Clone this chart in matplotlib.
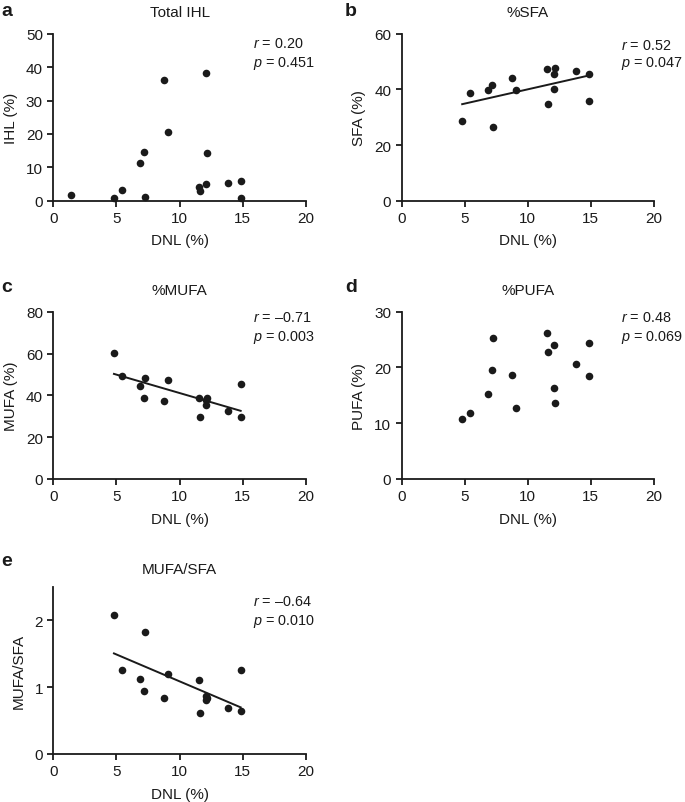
import matplotlib
matplotlib.use("Agg")
import matplotlib.pyplot as plt
import numpy as np

plt.rcParams['font.family'] = ['Liberation Sans', 'DejaVu Sans']
plt.rcParams['mathtext.fontset'] = 'custom'
plt.rcParams['mathtext.it'] = 'Liberation Sans:italic'
plt.rcParams['mathtext.rm'] = 'Liberation Sans'

# data
dnl_ihl = [1.37, 4.8, 5.4, 7.25, 6.83, 7.18, 8.76, 9.05, 11.56, 11.6, 12.06, 12.08, 12.19, 13.8, 14.83, 14.83]
ihl = [1.6, 0.8, 3.1, 1.1, 11.3, 14.6, 36.1, 20.7, 4.2, 2.8, 38.3, 5.1, 14.4, 5.3, 5.9, 0.9]

dnl = [4.8, 5.4, 6.83, 7.18, 7.25, 8.76, 9.05, 11.56, 11.6, 12.06, 12.08, 12.19, 13.8, 14.83, 14.83]
sfa = [28.7, 38.7, 39.8, 41.4, 26.3, 44.0, 39.6, 47.4, 34.9, 40.2, 45.4, 47.7, 46.7, 45.7, 35.9]
mufa = [60.2, 49.1, 44.6, 38.7, 48.1, 37.1, 47.3, 38.6, 29.5, 35.2, 38.0, 38.6, 32.5, 45.3, 29.8]
pufa = [10.7, 11.8, 15.2, 19.6, 25.3, 18.6, 12.8, 26.1, 22.8, 16.3, 24.0, 13.7, 20.6, 24.3, 18.5]
ratio = [2.08, 1.26, 1.12, 0.94, 1.82, 0.84, 1.19, 1.11, 0.62, 0.87, 0.81, 0.84, 0.69, 1.26, 0.65]

stats_r = ["0.20", "0.52", "\u20130.71", "0.48", "\u20130.64"]
stats_p = ["0.451", "0.047", "0.003", "0.069", "0.010"]

W, H = 685, 803
fig = plt.figure(figsize=(W / 100, H / 100), dpi=100)

col = "#1a1a1a"
fs = 11

def make_ax(x0, x1, ytop, ybot):
    return fig.add_axes([x0 / W, 1 - ybot / H, (x1 - x0) / W, (ybot - ytop) / H])

panels = [
    # letter, title, ylabel, x, y, ymax, yticks, fit line, axes box (px), stats pos
    ("a", "Total IHL", "IHL (%)", dnl_ihl, ihl, 50, [0, 10, 20, 30, 40, 50], False,
     (53.3, 306, 34.7, 201.7), (0.79, 0.946, 0.829)),
    ("b", "%SFA", "SFA (%)", dnl, sfa, 60, [0, 20, 40, 60], True,
     (401.7, 653.7, 34.7, 201.7), (0.872, 0.935, 0.829)),
    ("c", "%MUFA", "MUFA (%)", dnl, mufa, 80, [0, 20, 40, 60, 80], True,
     (53.3, 306, 312.7, 480), (0.79, 0.966, 0.85)),
    ("d", "%PUFA", "PUFA (%)", dnl, pufa, 30, [0, 10, 20, 30], False,
     (401.7, 653.7, 312.7, 480), (0.872, 0.966, 0.85)),
    ("e", "MUFA/SFA", "MUFA/SFA", dnl, ratio, 2.5, [0, 1, 2], True,
     (53.3, 306, 587.7, 755), (0.79, 0.916, 0.797)),
]

for i, (letter, title, ylab, xs, ys, ymax, yticks, fit, box, spos) in enumerate(panels):
    ax = make_ax(*box)
    xs = np.array(xs)
    ys = np.array(ys)
    ax.scatter(xs, ys, s=30, color=col, zorder=3, linewidths=0, clip_on=False)
    if fit:
        k, b = np.polyfit(xs, ys, 1)
        xx = np.array([xs.min(), xs.max()])
        ax.plot(xx, k * xx + b, color=col, lw=1.4)
    ax.set_xlim(0, 20)
    ax.set_ylim(0, ymax)
    ax.set_xticks([0, 5, 10, 15, 20])
    ax.set_yticks(yticks)
    for s in ["top", "right"]:
        ax.spines[s].set_visible(False)
    for s in ["left", "bottom"]:
        ax.spines[s].set_linewidth(1.3)
        ax.spines[s].set_color(col)
    ax.tick_params(direction="out", length=4, width=1.3, color=col,
                   labelsize=fs, labelcolor=col, pad=3.5)
    ax.set_xlabel("DNL (%)", fontsize=fs, color=col, labelpad=6)
    ax.set_ylabel(ylab, fontsize=fs, color=col, labelpad=6)
    h = box[3] - box[2]
    ax.text(0.5, 1 + 21.4 / h if letter != "e" else 1 + 17.7 / h, title,
            transform=ax.transAxes, ha="center", va="center", fontsize=fs, color=col)
    ax.text(spos[0], spos[1], "$r$ = " + stats_r[i], transform=ax.transAxes,
            ha="left", va="center", fontsize=10.4, color=col)
    ax.text(spos[0], spos[2], "$p$ = " + stats_p[i], transform=ax.transAxes,
            ha="left", va="center", fontsize=10.4, color=col)
    lx = 1 if box[0] < 100 else 345
    ly = {"a": 12, "b": 12, "c": 287, "d": 287, "e": 562}[letter]
    fig.text(lx / W, 1 - ly / H, letter, fontsize=14, fontweight="bold",
             ha="left", va="center", color=col)

fig.savefig("out.png", dpi=100)
